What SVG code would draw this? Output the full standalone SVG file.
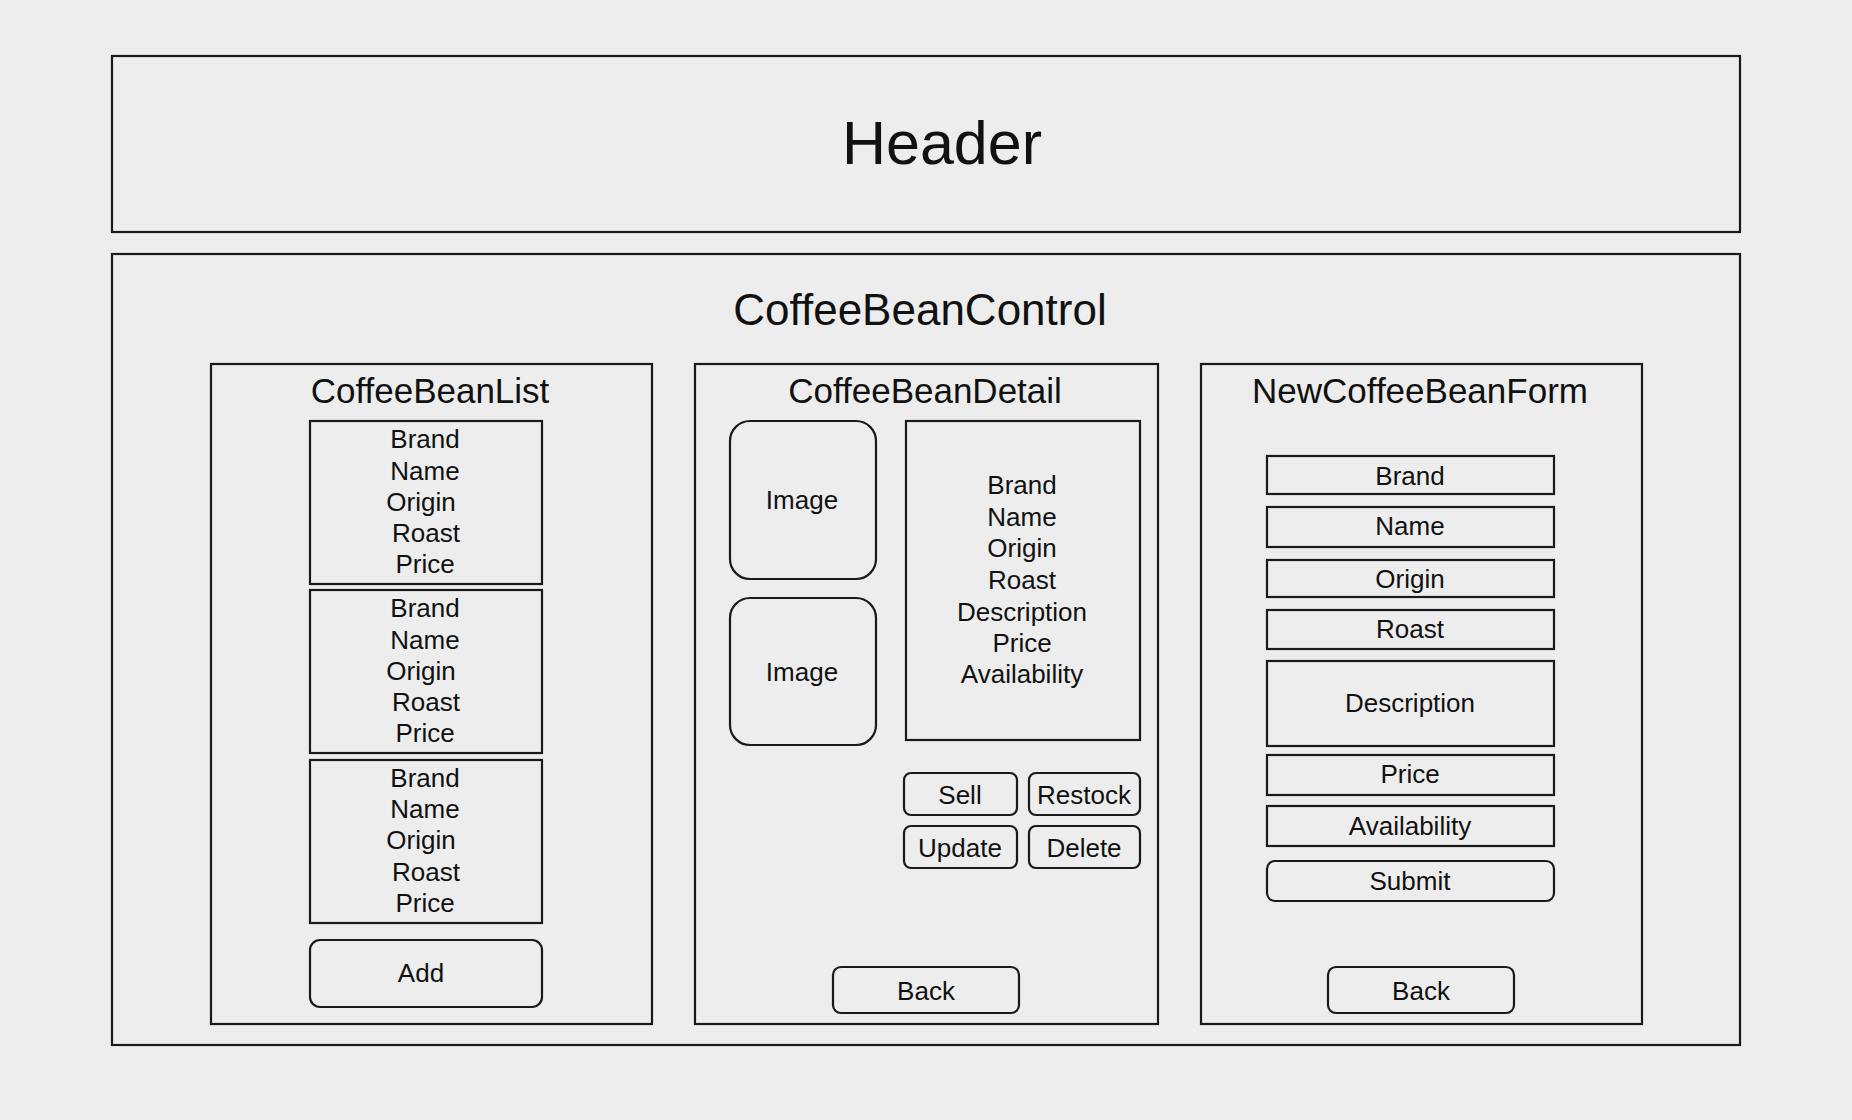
<svg xmlns="http://www.w3.org/2000/svg" width="1852" height="1120" viewBox="0 0 1852 1120">
<style>
.box{fill:none;stroke:#1a1a1a;stroke-width:2.2}
.t{font-family:"Liberation Sans",Arial,sans-serif;fill:#111;text-anchor:middle}
.s26{font-size:26px}
.s34{font-size:35px}
</style>
<rect width="1852" height="1120" fill="#ededed"/>
<g id="header">
<rect class="box" x="112" y="56" width="1628" height="176"/>
<text class="t" x="942" y="164" font-size="61">Header</text>
</g>
<g id="coffee-bean-control">
<rect class="box" x="112" y="254" width="1628" height="791"/>
<text class="t" x="920" y="325" font-size="44">CoffeeBeanControl</text>
</g>
<g id="coffee-bean-list">
<rect class="box" x="211" y="364" width="441" height="660"/>
<text class="t s34" x="430" y="403">CoffeeBeanList</text>
<g id="list-item-1">
<rect class="box" x="310" y="421" width="232" height="163"/>
<text class="t s26"><tspan x="425" y="448">Brand</tspan><tspan x="425" y="480">Name</tspan><tspan x="421" y="511">Origin</tspan><tspan x="426" y="542">Roast</tspan><tspan x="425" y="573">Price</tspan></text>
</g>
<g id="list-item-2">
<rect class="box" x="310" y="590" width="232" height="163"/>
<text class="t s26"><tspan x="425" y="617">Brand</tspan><tspan x="425" y="649">Name</tspan><tspan x="421" y="680">Origin</tspan><tspan x="426" y="711">Roast</tspan><tspan x="425" y="742">Price</tspan></text>
</g>
<g id="list-item-3">
<rect class="box" x="310" y="760" width="232" height="163"/>
<text class="t s26"><tspan x="425" y="787">Brand</tspan><tspan x="425" y="818">Name</tspan><tspan x="421" y="849">Origin</tspan><tspan x="426" y="881">Roast</tspan><tspan x="425" y="912">Price</tspan></text>
</g>
<g id="add-button">
<rect class="box" x="310" y="940" width="232" height="67" rx="10"/>
<text class="t s26" x="421" y="982">Add</text>
</g>
</g>
<g id="coffee-bean-detail">
<rect class="box" x="695" y="364" width="463" height="660"/>
<text class="t s34" x="925" y="403">CoffeeBeanDetail</text>
<g id="image-1">
<rect class="box" x="730" y="421" width="146" height="158" rx="20"/>
<text class="t s26" x="802" y="509">Image</text>
</g>
<g id="image-2">
<rect class="box" x="730" y="598" width="146" height="147" rx="20"/>
<text class="t s26" x="802" y="681">Image</text>
</g>
<g id="detail-info">
<rect class="box" x="906" y="421" width="234" height="319"/>
<text class="t s26"><tspan x="1022" y="494">Brand</tspan><tspan x="1022" y="526">Name</tspan><tspan x="1022" y="557">Origin</tspan><tspan x="1022" y="589">Roast</tspan><tspan x="1022" y="621">Description</tspan><tspan x="1022" y="652">Price</tspan><tspan x="1022" y="683">Availability</tspan></text>
</g>
<g id="sell-button">
<rect class="box" x="904" y="773" width="113" height="42" rx="7"/>
<text class="t s26" x="960" y="804">Sell</text>
</g>
<g id="restock-button">
<rect class="box" x="1029" y="773" width="111" height="42" rx="7"/>
<text class="t s26" x="1084" y="804">Restock</text>
</g>
<g id="update-button">
<rect class="box" x="904" y="826" width="113" height="42" rx="7"/>
<text class="t s26" x="960" y="857">Update</text>
</g>
<g id="delete-button">
<rect class="box" x="1029" y="826" width="111" height="42" rx="7"/>
<text class="t s26" x="1084" y="857">Delete</text>
</g>
<g id="detail-back-button">
<rect class="box" x="833" y="967" width="186" height="46" rx="8"/>
<text class="t s26" x="926" y="1000">Back</text>
</g>
</g>
<g id="new-coffee-bean-form">
<rect class="box" x="1201" y="364" width="441" height="660"/>
<text class="t s34" x="1420" y="403">NewCoffeeBeanForm</text>
<g id="field-brand"><rect class="box" x="1267" y="456" width="287" height="38"/><text class="t s26" x="1410" y="485">Brand</text></g>
<g id="field-name"><rect class="box" x="1267" y="507" width="287" height="40"/><text class="t s26" x="1410" y="535">Name</text></g>
<g id="field-origin"><rect class="box" x="1267" y="560" width="287" height="37"/><text class="t s26" x="1410" y="588">Origin</text></g>
<g id="field-roast"><rect class="box" x="1267" y="610" width="287" height="39"/><text class="t s26" x="1410" y="638">Roast</text></g>
<g id="field-description"><rect class="box" x="1267" y="661" width="287" height="85"/><text class="t s26" x="1410" y="712">Description</text></g>
<g id="field-price"><rect class="box" x="1267" y="755" width="287" height="40"/><text class="t s26" x="1410" y="783">Price</text></g>
<g id="field-availability"><rect class="box" x="1267" y="806" width="287" height="40"/><text class="t s26" x="1410" y="835">Availability</text></g>
<g id="submit-button"><rect class="box" x="1267" y="861" width="287" height="40" rx="8"/><text class="t s26" x="1410" y="890">Submit</text></g>
<g id="form-back-button"><rect class="box" x="1328" y="967" width="186" height="46" rx="8"/><text class="t s26" x="1421" y="1000">Back</text></g>
</g>
<g id="connectors"/>
</svg>
